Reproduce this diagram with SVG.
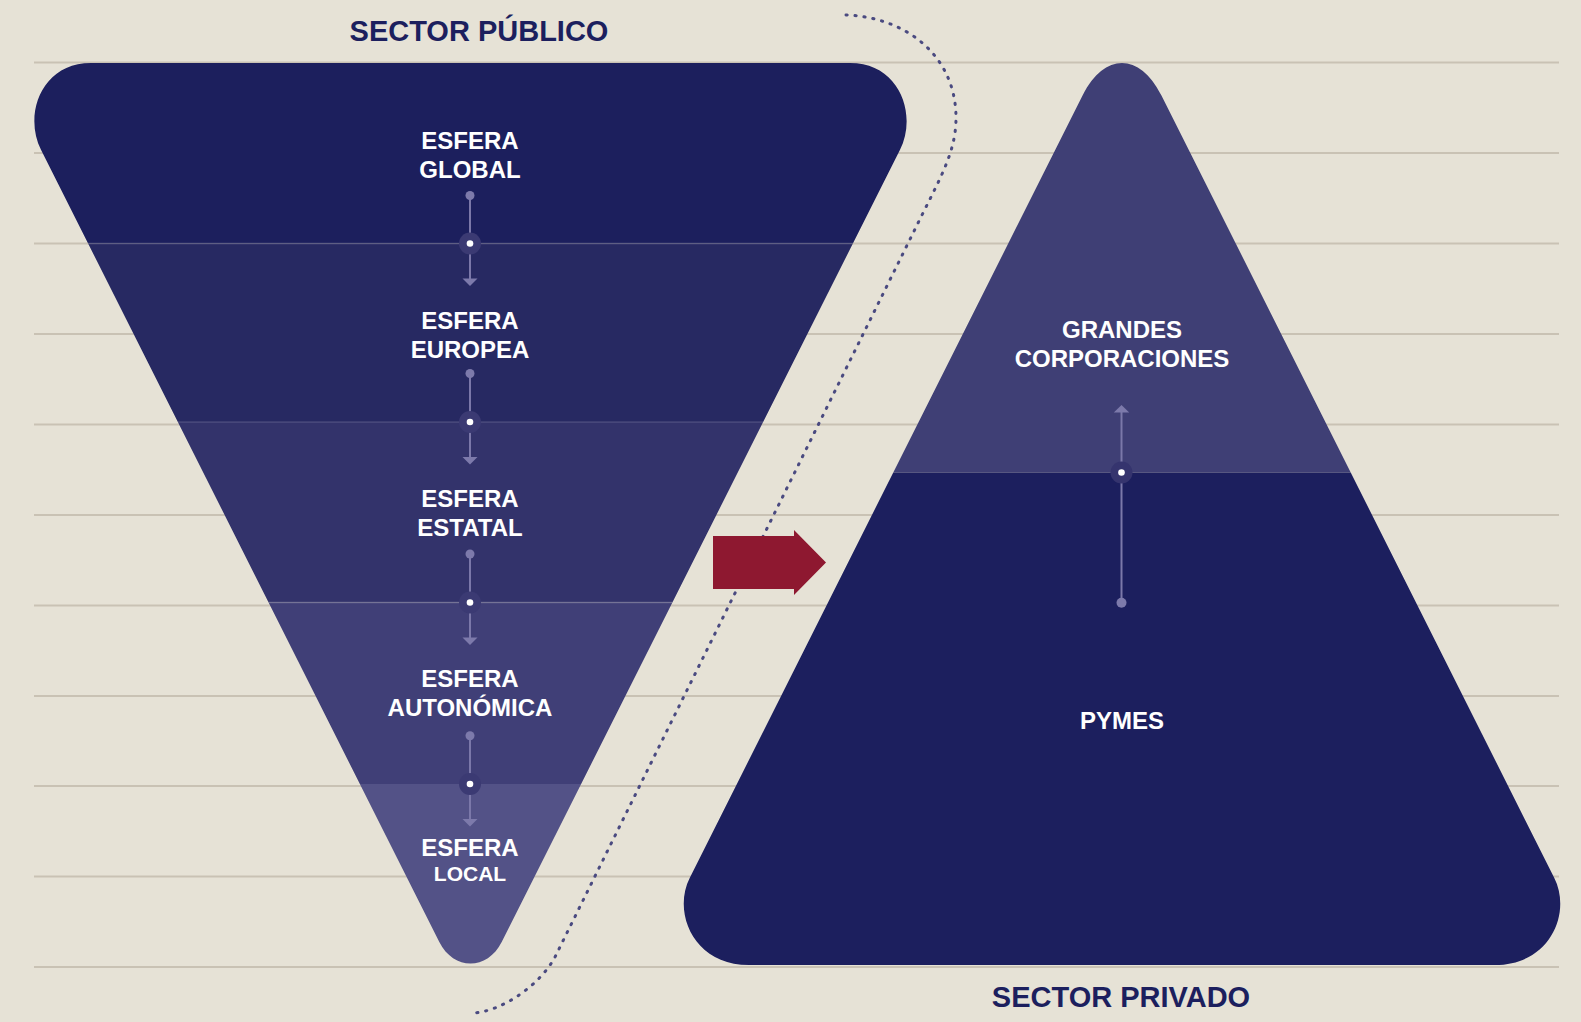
<svg xmlns="http://www.w3.org/2000/svg" width="1581" height="1022" viewBox="0 0 1581 1022">
<defs>
<style>
.bg{fill:#e6e2d6}
.grid line{stroke:#c9c2b4;stroke-width:2}
.lbl{font-family:"Liberation Sans",Arial,Helvetica,sans-serif;font-weight:bold;fill:#ffffff;text-anchor:middle;font-size:24px}
.title{font-family:"Liberation Sans",Arial,Helvetica,sans-serif;font-weight:bold;fill:#1c1f5e;text-anchor:middle;font-size:29px}
.cl{stroke:#7b78a9;stroke-width:2;fill:none}
.cd{fill:#7d7aab}
.ch{fill:#7d7aab}
.hub{fill:#3b3a73}
.hubr{fill:#35346e}
.wd{fill:#ffffff}
.dots{fill:none;stroke:#4a4a80;stroke-width:3;stroke-linecap:round;stroke-dasharray:1.2 7.8}
.sep{stroke:#ffffff;stroke-opacity:0.1;stroke-width:2}
</style>
<clipPath id="funnelClip">
<path d="M 91,63 L 850,63 C 900,63 917.7,115 899.9,150 L 501.7,942 C 487.3,970.7 453.7,970.7 439.3,942 L 41.1,150 C 23.3,115 41,63 91,63 Z"/>
</clipPath>
<clipPath id="pyrClip">
<path d="M 1082.8,95 C 1104.2,52.3 1139.8,52.3 1161.2,95 L 1554.3,878 C 1571.9,913 1550,965 1495,965 L 749,965 C 694,965 672.1,913 689.7,878 Z"/>
</clipPath>
</defs>
<rect class="bg" x="0" y="0" width="1581" height="1022"/>
<g class="grid">
<line x1="34" y1="62.5" x2="1559" y2="62.5"/>
<line x1="34" y1="153" x2="1559" y2="153"/>
<line x1="34" y1="243.5" x2="1559" y2="243.5"/>
<line x1="34" y1="334" x2="1559" y2="334"/>
<line x1="34" y1="424.5" x2="1559" y2="424.5"/>
<line x1="34" y1="515" x2="1559" y2="515"/>
<line x1="34" y1="605.5" x2="1559" y2="605.5"/>
<line x1="34" y1="696" x2="1559" y2="696"/>
<line x1="34" y1="786" x2="1559" y2="786"/>
<line x1="34" y1="876.5" x2="1559" y2="876.5"/>
<line x1="34" y1="967" x2="1559" y2="967"/>
</g>
<text id="title-publico" class="title" x="479" y="41">SECTOR PÚBLICO</text>
<text id="title-privado" class="title" x="1121" y="1006.5">SECTOR PRIVADO</text>
<g id="divider">
<path class="dots" d="M 846,15 C 905,17 956,55 956,118 C 956,150 941.9,175 922,215 L 556,955 C 541.2,985 500,1013 471,1013"/>
</g>
<g id="funnel" clip-path="url(#funnelClip)">
<g id="esfera-global"><rect x="0" y="40" width="960" height="203.5" fill="#1c1f5d"/></g>
<g id="esfera-europea"><rect x="0" y="243.5" width="960" height="178.5" fill="#272962"/></g>
<g id="esfera-estatal"><rect x="0" y="422" width="960" height="180.5" fill="#33336b"/></g>
<g id="esfera-autonomica"><rect x="0" y="602.5" width="960" height="181.5" fill="#403f77"/></g>
<g id="esfera-local"><rect x="0" y="784" width="960" height="220" fill="#535287"/></g>
<line class="sep" x1="0" y1="243.5" x2="960" y2="243.5"/>
<line class="sep" x1="0" y1="422" x2="960" y2="422"/>
<line class="sep" x1="0" y1="602.5" x2="960" y2="602.5"/>
</g>
<g id="pyramid" clip-path="url(#pyrClip)">
<g id="grandes-corporaciones"><rect x="640" y="0" width="960" height="472.5" fill="#3f3f75"/></g>
<g id="pymes"><rect x="640" y="472.5" width="960" height="530" fill="#1c1f5e"/></g>
</g>
<g id="connectors">
<line class="cl" x1="470" y1="195" x2="470" y2="280"/>
<circle class="cd" cx="470" cy="195.5" r="4.5"/>
<circle class="hub" cx="470" cy="243.5" r="11"/>
<circle class="wd" cx="470" cy="243.5" r="3.3"/>
<polygon class="ch" points="462.5,278.5 477.5,278.5 470,286"/>

<line class="cl" x1="470" y1="373.5" x2="470" y2="458"/>
<circle class="cd" cx="470" cy="373.5" r="4.5"/>
<circle class="hub" cx="470" cy="422" r="11"/>
<circle class="wd" cx="470" cy="422" r="3.3"/>
<polygon class="ch" points="462.5,457 477.5,457 470,464.5"/>

<line class="cl" x1="470" y1="554" x2="470" y2="638"/>
<circle class="cd" cx="470" cy="554" r="4.5"/>
<circle class="hub" cx="470" cy="602.5" r="11"/>
<circle class="wd" cx="470" cy="602.5" r="3.3"/>
<polygon class="ch" points="462.5,637.5 477.5,637.5 470,645"/>

<line class="cl" x1="470" y1="735.7" x2="470" y2="820"/>
<circle class="cd" cx="470" cy="735.7" r="4.5"/>
<circle class="hub" cx="470" cy="784" r="11"/>
<circle class="wd" cx="470" cy="784" r="3.3"/>
<polygon class="ch" points="462.5,819 477.5,819 470,826.5"/>

<line class="cl" x1="1121.5" y1="412" x2="1121.5" y2="602.7"/>
<polygon class="ch" points="1113.8,412.5 1129.2,412.5 1121.5,405"/>
<circle class="hubr" cx="1121.5" cy="472.5" r="11"/>
<circle class="wd" cx="1121.5" cy="472.5" r="3.3"/>
<circle class="cd" cx="1121.5" cy="602.7" r="5"/>
</g>
<g id="labels">
<text class="lbl" x="470" y="148.5">ESFERA</text>
<text class="lbl" x="470" y="177.5">GLOBAL</text>
<text class="lbl" x="470" y="329">ESFERA</text>
<text class="lbl" x="470" y="357.5">EUROPEA</text>
<text class="lbl" x="470" y="506.5">ESFERA</text>
<text class="lbl" x="470" y="535.5">ESTATAL</text>
<text class="lbl" x="470" y="686.7">ESFERA</text>
<text class="lbl" x="470" y="715.7">AUTONÓMICA</text>
<text class="lbl" x="470" y="856">ESFERA</text>
<text class="lbl" x="470" y="881" style="font-size:21px">LOCAL</text>
<text class="lbl" x="1122" y="338.3">GRANDES</text>
<text class="lbl" x="1122" y="366.7">CORPORACIONES</text>
<text class="lbl" x="1122" y="728.5">PYMES</text>
</g>
<g id="transition-arrow">
<polygon points="713,536 794,536 794,530 826,562.5 794,595 794,589 713,589" fill="#8e1830"/>
</g>
</svg>
